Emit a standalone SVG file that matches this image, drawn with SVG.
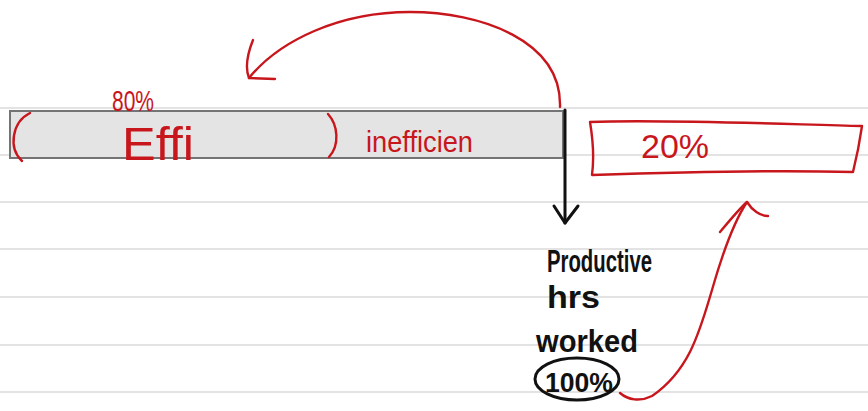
<svg xmlns="http://www.w3.org/2000/svg" width="868" height="411" viewBox="0 0 868 411">
<defs>
<style>
.rule{stroke:#e3e3e3;stroke-width:2}
.red{fill:none;stroke:#c8161d;stroke-width:2.4;stroke-linecap:round;stroke-linejoin:round}
.redt{fill:#c8161d;font-family:"Liberation Sans",Arial,sans-serif}
.blk{fill:none;stroke:#111;stroke-width:3;stroke-linecap:round;stroke-linejoin:round}
.blkt{fill:#111;font-family:"Liberation Sans",Arial,sans-serif;font-weight:bold}
</style>
</defs>
<rect width="868" height="411" fill="#ffffff"/>
<g id="ruling">
<line class="rule" x1="0" y1="108" x2="868" y2="108"/>
<line class="rule" x1="0" y1="155" x2="868" y2="155"/>
<line class="rule" x1="0" y1="202" x2="868" y2="202"/>
<line class="rule" x1="0" y1="249" x2="868" y2="249"/>
<line class="rule" x1="0" y1="297" x2="868" y2="297"/>
<line class="rule" x1="0" y1="345" x2="868" y2="345"/>
<line class="rule" x1="0" y1="392" x2="868" y2="392"/>
</g>
<g id="bar">
<rect x="10" y="111" width="553" height="47" fill="#e4e4e4" stroke="#747474" stroke-width="2"/>
<path class="red" d="M30 113 C12 122 8 148 22 161"/>
<path class="red" d="M328 114 C338 125 340 145 329 157"/>
<text class="redt" x="112" y="111" font-size="30" textLength="42" lengthAdjust="spacingAndGlyphs">80%</text>
<text class="redt" x="122" y="160" font-size="46" textLength="72" lengthAdjust="spacingAndGlyphs">Effi</text>
<text class="redt" x="366" y="152" font-size="30" textLength="107" lengthAdjust="spacingAndGlyphs">inefficien</text>
</g>
<g id="box20">
<path class="red" d="M590 122 C660 119 780 124 862 126 C860 140 856 160 853 172 C770 170 680 172 592 175 C594 160 593 140 590 122 Z" stroke-width="3"/>
<text class="redt" x="641" y="158" font-size="34" textLength="68" lengthAdjust="spacingAndGlyphs">20%</text>
</g>
<g id="worked">
<text class="blkt" x="547" y="272" font-size="32" textLength="105" lengthAdjust="spacingAndGlyphs">Productive</text>
<text class="blkt" x="547" y="308" font-size="32" textLength="53" lengthAdjust="spacingAndGlyphs">hrs</text>
<text class="blkt" x="536" y="352" font-size="32" textLength="102" lengthAdjust="spacingAndGlyphs">worked</text>
<ellipse cx="577" cy="379" rx="42" ry="21" class="blk" stroke-width="2.5"/>
<text class="blkt" x="545" y="392" font-size="28" textLength="68" lengthAdjust="spacingAndGlyphs">100%</text>
</g>
<g id="connectors">
<path class="blk" d="M565 110 L565 223"/>
<path class="blk" d="M554 206 L565 223 L578 206"/>
<path class="red" stroke-width="3" d="M560 107 C562 40 480 12 410 12 C340 12 280 40 249 78"/>
<path class="red" d="M253 40 C247 55 245 68 249 78 L275 79"/>
<path class="red" d="M620 393 C628 400 640 402 652 396 C690 370 700 330 712 290 C722 255 735 220 747 202"/>
<path class="red" d="M720 232 C730 220 740 208 747 202 C752 210 760 216 768 216"/>
</g>
</svg>
